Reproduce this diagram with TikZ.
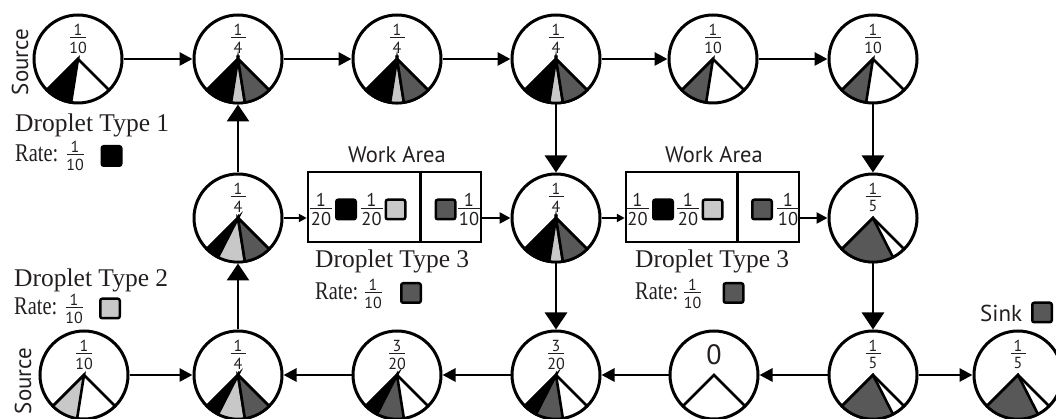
\documentclass[tikz,border=0pt]{standalone}
\usepackage{fontspec}
\setmainfont{Liberation Serif}
\setsansfont{PT Sans}
\newfontfamily\rateface[FakeStretch=0.8]{Liberation Serif}
\usetikzlibrary{arrows.meta,calc}
\definecolor{ink}{HTML}{231F20}
\definecolor{dgray}{HTML}{585858}
\definecolor{lgray}{HTML}{C8C8C8}
\tikzset{
  circ/.style={circle, draw=black, line width=3pt, fill=white, minimum size=88pt, inner sep=0pt},
  sectline/.style={draw=black, line width=2.6pt, line join=miter},
  harr/.style={line width=2.8pt, -{Triangle[length=13pt,width=13pt]}},
  varr/.style={line width=2.8pt, -{Triangle[length=17pt,width=22pt]}},
  sarr/.style={line width=2.5pt, -{Triangle[length=8pt,width=8pt]}},
  marr/.style={line width=2.5pt, -{Triangle[length=11pt,width=11pt]}},
  fracpart/.style={inner sep=0pt, text=ink},
  sqr/.style={draw=black, line width=2.5pt, minimum size=19.5pt, inner sep=0pt, rounded corners=2pt},
  wabox/.style={draw=black, line width=2.5pt, inner sep=0pt, minimum width=173pt, minimum height=70pt},
  serif/.style={font=\rmfamily\fontsize{25.5}{28}\selectfont, text=ink, inner sep=0pt},
  ratelbl/.style={font=\rateface\fontsize{25.5}{28}\selectfont, text=ink, inner sep=0pt},
  sanslbl/.style={font=\sffamily\fontsize{23}{26}\selectfont, text=ink, inner sep=0pt},
}
\newcommand{\sect}[4]{\filldraw[fill=#4, sectline] (#1.center) -- ++(#2:44pt) arc[start angle=#2, end angle=#3, radius=44pt] -- cycle;}
\newcommand{\cone}[1]{\draw[sectline] (#1.center) ++(225:44pt) -- (#1.center) -- ++(315:44pt);}
\newcommand{\frc}[7]{%
  \coordinate (#1) at (#2,#3);
  \node[fracpart, font=\sffamily\fontsize{#6}{#6}\selectfont, anchor=south] (#1n) at ($(#1)+(0,2.5pt)$) {#4};
  \node[fracpart, font=\sffamily\fontsize{#6}{#6}\selectfont, anchor=north] (#1d) at ($(#1)+(0,-3.5pt)$) {#5};
  \draw[ink, line width=1pt] ($(#1)+(-#7/2,0)$) -- ($(#1)+(#7/2,0)$);
}
\begin{document}
\begin{tikzpicture}[x=1pt,y=1pt]
\useasboundingbox (0,0) rectangle (1056,419);
% circles
\node[circ] (T1) at (78,360) {};
\node[circ] (T2) at (238,360) {};
\node[circ] (T3) at (397,360) {};
\node[circ] (T4) at (556,360) {};
\node[circ] (T5) at (713,360) {};
\node[circ] (T6) at (873,360) {};
\node[circ] (M2) at (238,201) {};
\node[circ] (M4) at (556,201) {};
\node[circ] (M6) at (873,201) {};
\node[circ] (B1) at (84,44) {};
\node[circ] (B2) at (238,44) {};
\node[circ] (B3) at (397,44) {};
\node[circ] (B4) at (556,44) {};
\node[circ] (B5) at (714,44) {};
\node[circ] (B6) at (873,44) {};
\node[circ] (B7) at (1018,44) {};
% wedges
\foreach \n in {T1,T2,T3,T4,T5,T6,M2,M4,M6,B1,B2,B3,B4,B5,B6,B7} {\cone{\n}}
\sect{T1}{225}{261}{black}
\foreach \n in {T2,T3,T4,M4} {\sect{\n}{225}{261}{black}\sect{\n}{261}{279}{lgray}\sect{\n}{279}{315}{dgray}}
\foreach \n in {M2,B2} {\sect{\n}{225}{243}{black}\sect{\n}{243}{279}{lgray}\sect{\n}{279}{315}{dgray}}
\foreach \n in {B3,B4} {\sect{\n}{225}{243}{black}\sect{\n}{243}{279}{dgray}}
\foreach \n in {T5,T6} {\sect{\n}{225}{261}{dgray}}
\foreach \n in {M6,B6,B7} {\sect{\n}{225}{297}{dgray}}
\sect{B1}{225}{261}{lgray}
% circle labels
\frc{lT1}{78}{381}{1}{10}{16}{16}
\frc{lT2}{238}{381}{1}{4}{16}{15}
\frc{lT3}{397}{381}{1}{4}{16}{15}
\frc{lT4}{556}{381}{1}{4}{16}{15}
\frc{lT5}{713}{381}{1}{10}{16}{16}
\frc{lT6}{873}{381}{1}{10}{16}{16}
\frc{lM2}{238}{222}{1}{4}{16}{15}
\frc{lM4}{556}{222}{1}{4}{16}{15}
\frc{lM6}{873}{222}{1}{5}{16}{15}
\frc{lB1}{84}{65}{1}{10}{16}{16}
\frc{lB2}{238}{65}{1}{4}{16}{15}
\frc{lB3}{397}{65}{3}{20}{16}{16}
\frc{lB4}{556}{65}{3}{20}{16}{16}
\node[fracpart, font=\sffamily\fontsize{28}{28}\selectfont] (lB5) at (714,64) {0};
\frc{lB6}{873}{65}{1}{5}{16}{15}
\frc{lB7}{1018}{65}{1}{5}{16}{15}
% work areas
\node[wabox] (WA1) at (394.5,212) {};
\node[wabox] (WA2) at (712.5,212) {};
\draw[line width=2.5pt] ($(WA1.north west)!0.647!(WA1.north east)$) -- ($(WA1.south west)!0.647!(WA1.south east)$);
\draw[line width=2.5pt] ($(WA2.north west)!0.642!(WA2.north east)$) -- ($(WA2.south west)!0.642!(WA2.south east)$);
\node[sanslbl, font=\sffamily\fontsize{22.5}{26}\selectfont, anchor=base] (wl1) at (397,256) {Work Area};
\node[sanslbl, font=\sffamily\fontsize{22.5}{26}\selectfont, anchor=base] (wl2) at (714,256) {Work Area};
\frc{a1}{321}{210}{1}{20}{18.5}{22}
\node[sqr, fill=black] (a1s) at (346,209.5) {};
\frc{a2}{371.5}{210}{1}{20}{18.5}{22}
\node[sqr, fill=lgray] (a2s) at (395.5,209.5) {};
\node[sqr, fill=dgray] (a3s) at (445.5,209.5) {};
\frc{a3}{469}{210}{1}{10}{18.5}{22}
\frc{b1}{637.5}{210}{1}{20}{18.5}{22}
\node[sqr, fill=black] (b1s) at (663,209.5) {};
\frc{b2}{688}{210}{1}{20}{18.5}{22}
\node[sqr, fill=lgray] (b2s) at (712.5,209.5) {};
\node[sqr, fill=dgray] (b3s) at (762,209.5) {};
\frc{b3}{788}{210}{1}{10}{18.5}{22}
% droplet labels
\node[serif, anchor=base west] (d1) at (15,287) {Droplet Type 1};
\node[ratelbl, anchor=base west] (r1) at (15,257) {Rate:};
\frc{rf1}{75}{264}{1}{10}{16}{17}
\node[sqr, fill=black] (rs1) at (111.5,263) {};
\node[serif, anchor=base west] (d2) at (14,132) {Droplet Type 2};
\node[ratelbl, anchor=base west] (r2) at (14,104) {Rate:};
\frc{rf2}{74}{111}{1}{10}{16}{17}
\node[sqr, fill=lgray] (rs2) at (110,110.5) {};
\node[serif, anchor=base west] (d3) at (315,151) {Droplet Type 3};
\node[ratelbl, anchor=base west] (r3) at (315,119) {Rate:};
\frc{rf3}{373}{126}{1}{10}{16}{17}
\node[sqr, fill=dgray] (rs3) at (411,126) {};
\node[serif, anchor=base west] (d4) at (635,151) {Droplet Type 3};
\node[ratelbl, anchor=base west] (r4) at (635,119) {Rate:};
\frc{rf4}{692.5}{126}{1}{10}{16}{17}
\node[sqr, fill=dgray] (rs4) at (733.5,126) {};
\node[sanslbl, anchor=base west] (sink) at (980,97) {Sink};
\node[sqr, fill=dgray] (sinks) at (1042,106.5) {};
\node[sanslbl, rotate=90] (src1) at (20,357) {Source};
\node[sanslbl, rotate=90] (src2) at (23,38) {Source};
% connectors
\draw[harr] (T1) -- (T2);
\draw[harr] (T2) -- (T3);
\draw[harr] (T3) -- (T4);
\draw[harr] (T4) -- (T5);
\draw[harr] (T5) -- (T6);
\draw[varr] (M2) -- (T2);
\draw[varr] (B2) -- (M2);
\draw[varr] (T4) -- (M4);
\draw[varr] (M4) -- (B4);
\draw[varr] (T6) -- (M6);
\draw[varr] (M6) -- (B6);
\draw[sarr] (M2.east) -- (M2.east -| WA1.west);
\draw[marr] (M2.east -| WA1.east) -- (M4.west);
\draw[sarr] (M4.east) -- (M4.east -| WA2.west);
\draw[marr] (M4.east -| WA2.east) -- (M6.west);
\draw[harr] (B1) -- (B2);
\draw[harr] (B3) -- (B2);
\draw[harr] (B4) -- (B3);
\draw[harr] (B5) -- (B4);
\draw[harr] (B6) -- (B5);
\draw[harr] (B6) -- (B7);
\end{tikzpicture}
\end{document}
